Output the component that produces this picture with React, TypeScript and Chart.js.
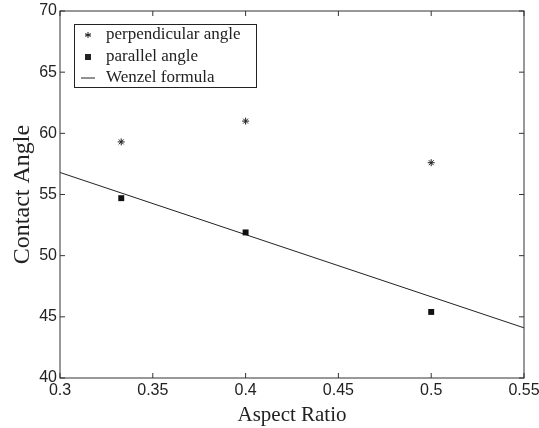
import React, { useRef, useEffect } from 'react';
import Chart from 'chart.js/auto';

const xTicks = [0.3, 0.35, 0.4, 0.45, 0.5, 0.55];
const yTicks = [40, 45, 50, 55, 60, 65, 70];

const aspectRatio = [0.333, 0.4, 0.5];
const perpendicularAngle = [59.3, 61.0, 57.6];
const parallelAngle = [54.7, 51.9, 45.4];

const wenzelX = [0.3, 0.55];
const wenzelY = [56.8, 44.1];

const legendLabels = ['perpendicular angle', 'parallel angle', 'Wenzel formula'];

// frame, inner ticks and the boxed legend
const framePlugin = {
  id: 'frame',
  afterDraw(chart: any) {
    const { ctx, chartArea: a, scales } = chart;
    ctx.save();
    ctx.strokeStyle = '#333';
    ctx.lineWidth = 1;
    ctx.strokeRect(a.left, a.top, a.right - a.left, a.bottom - a.top);
    const len = 5;
    ctx.beginPath();
    xTicks.forEach((v) => {
      const px = scales.x.getPixelForValue(v);
      ctx.moveTo(px, a.bottom);
      ctx.lineTo(px, a.bottom - len);
      ctx.moveTo(px, a.top);
      ctx.lineTo(px, a.top + len);
    });
    yTicks.forEach((v) => {
      const py = scales.y.getPixelForValue(v);
      ctx.moveTo(a.left, py);
      ctx.lineTo(a.left + len, py);
      ctx.moveTo(a.right, py);
      ctx.lineTo(a.right - len, py);
    });
    ctx.stroke();

    // legend
    const bx = 74, by = 24, bw = 182, bh = 63;
    ctx.fillStyle = '#fff';
    ctx.fillRect(bx, by, bw, bh);
    ctx.strokeStyle = '#222';
    ctx.strokeRect(bx + 0.5, by + 0.5, bw, bh);
    const rows = [35, 57, 78];
    ctx.fillStyle = '#222';
    ctx.font = '17px "Liberation Serif", serif';
    ctx.textBaseline = 'middle';
    rows.forEach((ry, i) => {
      ctx.fillText(legendLabels[i], 106, ry);
    });
    // star marker
    ctx.beginPath();
    const r = 3;
    for (let k = 0; k < 3; k++) {
      const ang = (Math.PI / 3) * k + Math.PI / 2;
      ctx.moveTo(88 - r * Math.cos(ang), rows[0] - r * Math.sin(ang));
      ctx.lineTo(88 + r * Math.cos(ang), rows[0] + r * Math.sin(ang));
    }
    ctx.moveTo(88 - r, rows[0]);
    ctx.lineTo(88 + r, rows[0]);
    ctx.stroke();
    ctx.fillRect(85, rows[1] - 3, 6, 6);
    ctx.beginPath();
    ctx.moveTo(81, rows[2]);
    ctx.lineTo(95, rows[2]);
    ctx.stroke();
    ctx.restore();
  },
};

const App: React.FC = () => {
  const canvasRef = useRef<HTMLCanvasElement>(null);
  const chartInstance = useRef<Chart | null>(null);

  useEffect(() => {
    if (!canvasRef.current) return;
    const ctx = canvasRef.current.getContext('2d');
    if (!ctx) return;
    if (chartInstance.current) chartInstance.current.destroy();

    const tickFont = { family: '"Liberation Sans", Arial, sans-serif', size: 16 };

    chartInstance.current = new Chart(ctx, {
      type: 'scatter',
      data: {
        datasets: [
          {
            label: legendLabels[0],
            data: aspectRatio.map((x, i) => ({ x, y: perpendicularAngle[i] })),
            pointStyle: 'star',
            radius: 3.5,
            borderColor: '#222',
            borderWidth: 1,
            backgroundColor: '#222',
          },
          {
            label: legendLabels[1],
            data: aspectRatio.map((x, i) => ({ x, y: parallelAngle[i] })),
            pointStyle: 'rect',
            radius: 4.2,
            borderWidth: 0,
            backgroundColor: '#111',
          },
          {
            label: legendLabels[2],
            data: wenzelX.map((x, i) => ({ x, y: wenzelY[i] })),
            showLine: true,
            pointRadius: 0,
            borderColor: '#222',
            borderWidth: 1,
          },
        ],
      },
      options: {
        animation: false,
        responsive: false,
        layout: { padding: 0 },
        plugins: { legend: { display: false }, tooltip: { enabled: false } },
        scales: {
          x: {
            type: 'linear',
            min: 0.3,
            max: 0.55,
            afterBuildTicks: (s: any) => {
              s.ticks = xTicks.map((value) => ({ value }));
            },
            afterFit: (s: any) => {
              s.height = 50;
              s.paddingLeft = 0;
              s.paddingRight = 15;
            },
            ticks: {
              font: tickFont,
              color: '#222',
              padding: 3,
              maxRotation: 0,
              callback: (v: any) => String(v),
            },
            grid: { display: false, drawTicks: false },
            border: { display: false },
            title: {
              display: true,
              text: 'Aspect Ratio',
              font: { family: '"Liberation Serif", serif', size: 21 },
              color: '#222',
              padding: { top: 5, bottom: 0 },
            },
          },
          y: {
            type: 'linear',
            min: 40,
            max: 70,
            afterBuildTicks: (s: any) => {
              s.ticks = yTicks.map((value) => ({ value }));
            },
            afterFit: (s: any) => {
              s.width = 60;
              s.paddingTop = 11;
              s.paddingBottom = 0;
            },
            ticks: {
              font: tickFont,
              color: '#222',
              padding: 3,
            },
            grid: { display: false, drawTicks: false },
            border: { display: false },
            title: {
              display: true,
              text: 'Contact Angle',
              font: { family: '"Liberation Serif", serif', size: 24 },
              color: '#222',
              padding: { top: 8, bottom: 0 },
            },
          },
        },
      },
      plugins: [framePlugin],
    });

    return () => {
      if (chartInstance.current) {
        chartInstance.current.destroy();
        chartInstance.current = null;
      }
    };
  }, []);

  return (
    <div style={{ position: 'fixed', left: 0, top: 0, width: '539px', height: '428px', background: '#fff' }}>
      <canvas ref={canvasRef} width={539} height={428} />
    </div>
  );
};

export default App;
